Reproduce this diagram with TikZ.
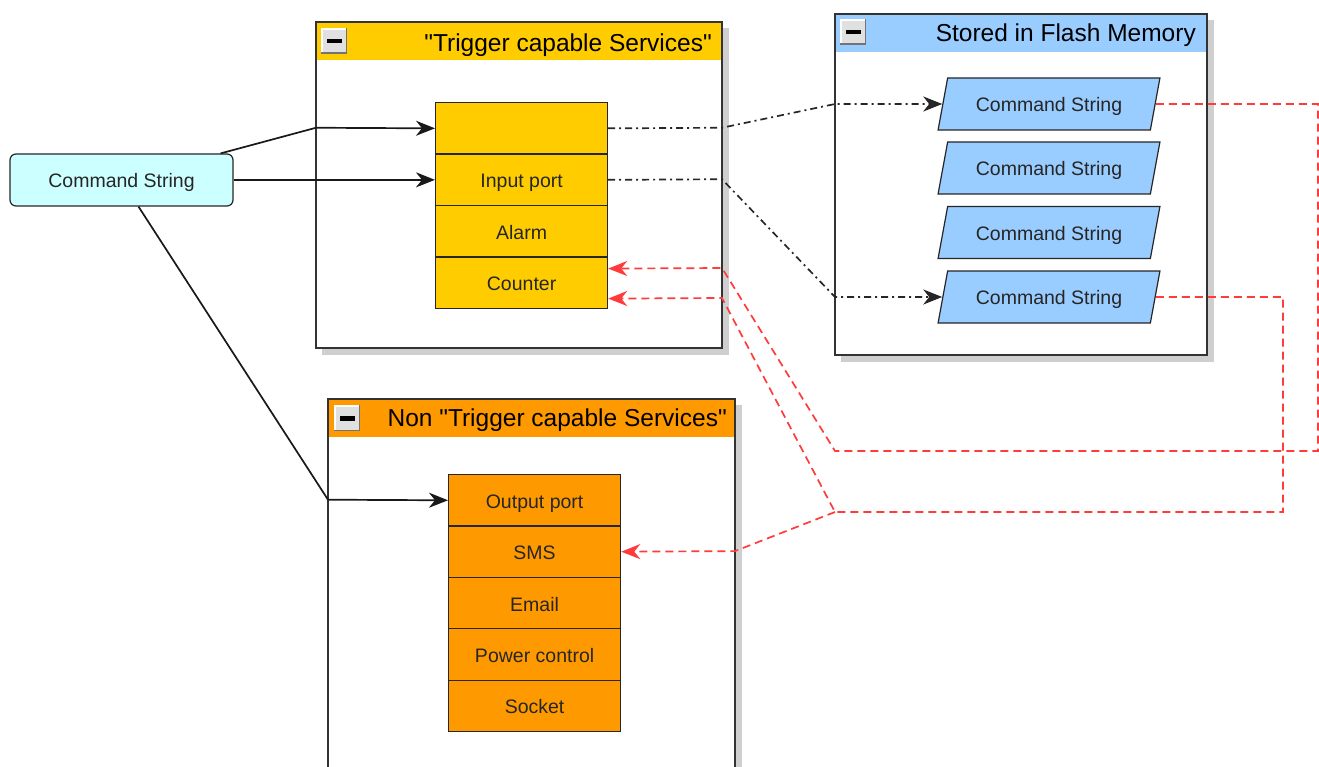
\documentclass[tikz,border=0pt]{standalone}
\usepackage{fontspec}
\setmainfont{Liberation Sans}
\usetikzlibrary{arrows.meta,shapes.geometric,calc}
\definecolor{trigc}{HTML}{FFCC00}
\definecolor{nonc}{HTML}{FF9900}
\definecolor{flashc}{HTML}{99CCFF}
\definecolor{cmdc}{HTML}{CCFFFF}
\definecolor{redc}{HTML}{FF3B3B}
\definecolor{shadowc}{HTML}{CFCFCF}
\begin{document}
\begin{tikzpicture}[x=1pt,y=-1pt,
  font=\fontsize{19.5}{23}\selectfont,
  container/.style={draw=black!80, line width=1.6pt},
  titletext/.style={font=\fontsize{24.5}{28}\selectfont, text=black, inner sep=0pt, anchor=base east},
  boxtext/.style={text height=17pt, text depth=1pt, text=black!85},
  rowbox/.style={boxtext, draw=black!85, line width=1.2pt, minimum width=172pt, inner sep=0pt, anchor=north west},
  fsbox/.style={boxtext, trapezium, trapezium left angle=69, trapezium right angle=111, trapezium stretches=true,
    draw=black!85, line width=1.2pt, fill=flashc, minimum width=222pt, minimum height=52pt, inner sep=0pt},
  solidarrow/.style={line width=1.7pt, draw=black!90, -{Stealth[length=19pt,width=15pt,inset=6pt]}},
  dasharrow/.style={line width=1.7pt, draw=black!85, dash pattern=on 7pt off 4pt on 2pt off 4pt, -{Stealth[length=19pt,width=15pt,inset=6pt]}},
  redarrow/.style={line width=1.7pt, draw=redc, dash pattern=on 8pt off 5pt, -{Stealth[length=19pt,width=15pt,inset=6pt]}},
  minusicon/.pic={
    \fill[black!55] (0,0) rectangle (26,26);
    \fill[white] (0,0) rectangle (24.5,24.5);
    \fill[black!12] (2,2) rectangle (24.5,24.5);
    \fill[black] (6,11) rectangle (21,15.5);
  }
]
\clip (0,0) rectangle (1319,767);
\fill[white] (0,0) rectangle (1319,767);

% ---- Trigger capable container
\fill[shadowc] (322,28) rectangle (729,355);
\fill[white] (316,22) rectangle (722,348);
\fill[trigc] (316,22) rectangle (722,60);
\draw[container] (316,22) rectangle (722,348);
\pic at (321,28) {minusicon};
\node[titletext] (trigT) at (712,51.5) {\textquotedbl Trigger capable Services\textquotedbl};

% ---- Flash container
\fill[shadowc] (841,20) rectangle (1214,362);
\fill[white] (835,14) rectangle (1207,355);
\fill[flashc] (835,14) rectangle (1207,52);
\draw[container] (835,14) rectangle (1207,355);
\pic at (840,19) {minusicon};
\node[titletext] (flashT) at (1196,41.7) {Stored in Flash Memory};

% ---- Non trigger container
\fill[shadowc] (334,405) rectangle (742,800);
\fill[white] (328,399) rectangle (735,800);
\fill[nonc] (328,399) rectangle (735,437);
\draw[container] (328,399) rectangle (735,800);
\pic at (334,405) {minusicon};
\node[titletext] (nonT) at (727,426.7) {Non \textquotedbl Trigger capable Services\textquotedbl};

% ---- trigger rows
\node[rowbox, fill=trigc, minimum height=51.5pt] (r1) at (435,102) {};
\node[rowbox, fill=trigc, minimum height=51.5pt] (r2) at (435,153.5) {Input port};
\node[rowbox, fill=trigc, minimum height=51.5pt] (r3) at (435,205) {Alarm};
\node[rowbox, fill=trigc, minimum height=51.5pt] (r4) at (435,256.5) {Counter};

% ---- non-trigger rows
\node[rowbox, fill=nonc, minimum height=51.4pt] (o1) at (448,474) {Output port};
\node[rowbox, fill=nonc, minimum height=51.4pt] (o2) at (448,525.4) {SMS};
\node[rowbox, fill=nonc, minimum height=51.4pt] (o3) at (448,576.8) {Email};
\node[rowbox, fill=nonc, minimum height=51.4pt] (o4) at (448,628.2) {Power control};
\node[rowbox, fill=nonc, minimum height=51.4pt] (o5) at (448,679.6) {Socket};

% ---- flash strings
\node[fsbox] (fs1) at (1049,104) {Command String};
\node[fsbox] (fs2) at (1049,168) {Command String};
\node[fsbox] (fs3) at (1049,232.5) {Command String};
\node[fsbox] (fs4) at (1049,297) {Command String};

% ---- command string
\node[boxtext, draw=black!85, line width=1.2pt, fill=cmdc, rounded corners=6pt, minimum width=223pt, minimum height=52pt, inner sep=0pt] (cmd) at (121.5,180) {Command String};

% ---- solid connectors
\draw[solidarrow] ($(cmd.north east)+(-13,0)$) -- (316,127.75) -- (r1.west);
\draw[solidarrow] (cmd.east |- r2.west) -- (r2.west);
\draw[solidarrow] ($(cmd.south)+(17,0)$) -- (328,499.7) -- (o1.west);

% ---- dash-dot connectors
\draw[dasharrow] (r1.east) -- (722,127.75) -- (835,104) -- (fs1.west);
\draw[dasharrow] (r2.east) -- (722,179.25) -- (835,297) -- (fs4.west);

% ---- red dashed connectors
\coordinate (rj) at (835,512);
\draw[redarrow] (fs1.east) -- (1318,104) -- (1318,451) -- (835,451) -- (722,268) -- ($(r4.east)+(0,-14.25)$);
\draw[redarrow] (fs4.east) -- (1283,297) -- (1283,512) -- (rj) -- (722,298) -- ($(r4.east)+(0,15.75)$);
\draw[redarrow] (rj) -- (735,551.1) -- (o2.east);
\end{tikzpicture}
\end{document}
